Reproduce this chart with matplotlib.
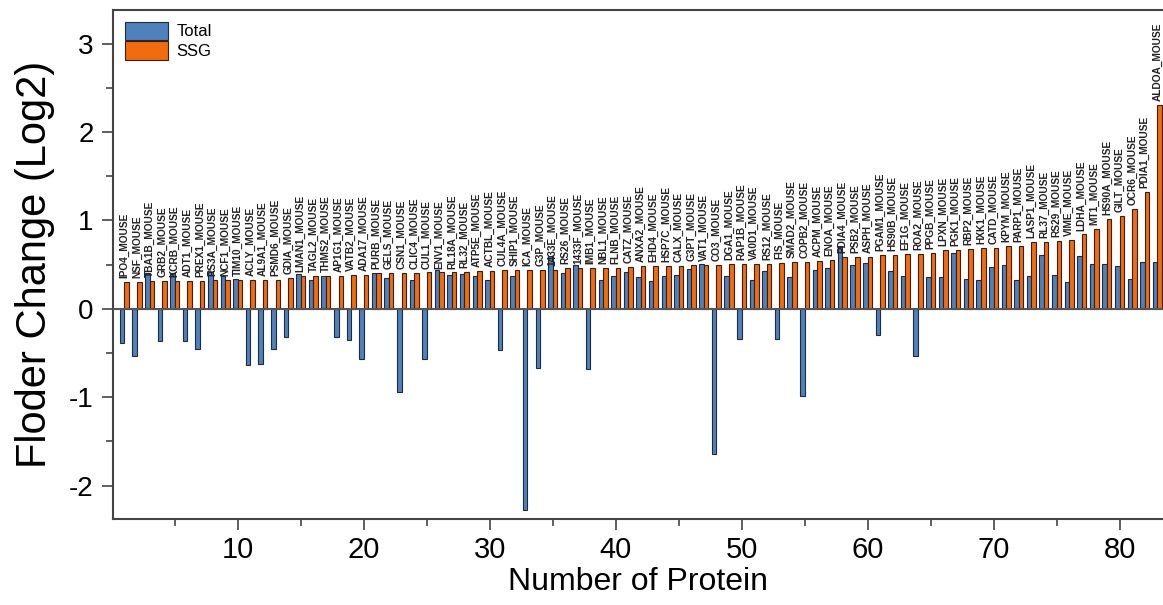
import numpy as np
import matplotlib
matplotlib.use("Agg")
import matplotlib.pyplot as plt
from matplotlib.ticker import MultipleLocator

plt.rcParams["font.family"] = ["Liberation Sans", "DejaVu Sans"]
plt.rcParams["axes.unicode_minus"] = False

proteins = [
    "IPO4_MOUSE", "NSF_MOUSE", "TBA1B_MOUSE", "GRB2_MOUSE", "KCRB_MOUSE",
    "ADT1_MOUSE", "PREX1_MOUSE", "RS3A_MOUSE", "NCF1_MOUSE", "TIM10_MOUSE",
    "ACLY_MOUSE", "AL9A1_MOUSE", "PSMD6_MOUSE", "GDIA_MOUSE", "LMAN1_MOUSE",
    "TAGL2_MOUSE", "THMS2_MOUSE", "AP1G1_MOUSE", "VATB2_MOUSE", "ADA17_MOUSE",
    "PURB_MOUSE", "GELS_MOUSE", "CSN1_MOUSE", "CLIC4_MOUSE", "CUL1_MOUSE",
    "ENV1_MOUSE", "RL18A_MOUSE", "RL32_MOUSE", "ATP5E_MOUSE", "ACTBL_MOUSE",
    "CUL4A_MOUSE", "SHIP1_MOUSE", "ICA_MOUSE", "G3P_MOUSE", "1433E_MOUSE",
    "RS26_MOUSE", "1433F_MOUSE", "IMB1_MOUSE", "NBL1_MOUSE", "FLNB_MOUSE",
    "CATZ_MOUSE", "ANXA2_MOUSE", "EHD4_MOUSE", "HSP7C_MOUSE", "CALX_MOUSE",
    "G3PT_MOUSE", "VAT1_MOUSE", "CO3_MOUSE", "DGA1_MOUSE", "RAP1B_MOUSE",
    "VA0D1_MOUSE", "RS12_MOUSE", "FIS_MOUSE", "SMAD2_MOUSE", "COPB2_MOUSE",
    "ACPM_MOUSE", "ENOA_MOUSE", "PDIA4_MOUSE", "PSB2_MOUSE", "ASPH_MOUSE",
    "PGAM1_MOUSE", "HS90B_MOUSE", "EF1G_MOUSE", "ROA2_MOUSE", "PPGB_MOUSE",
    "LPXN_MOUSE", "PGK1_MOUSE", "RBP2_MOUSE", "HXK1_MOUSE", "CATD_MOUSE",
    "KPYM_MOUSE", "PARP1_MOUSE", "LASP1_MOUSE", "RL37_MOUSE", "RS29_MOUSE",
    "VIME_MOUSE", "LDHA_MOUSE", "MT1_MOUSE", "HS90A_MOUSE", "GILT_MOUSE",
    "OCR6_MOUSE", "PDIA1_MOUSE", "ALDOA_MOUSE",
]

total = [
    -0.39, -0.53, 0.40, -0.37, 0.40, -0.37, -0.45, 0.41, 0.37, 0.34,
    -0.64, -0.62, -0.46, -0.32, 0.39, 0.33, 0.37, -0.32, -0.35, -0.57,
    0.40, 0.35, -0.94, 0.33, -0.57, 0.44, 0.38, 0.39, 0.37, 0.33,
    -0.47, 0.37, -2.28, -0.67, 0.60, 0.40, 0.49, -0.68, 0.33, 0.375,
    0.42, 0.355, 0.31, 0.375, 0.38, 0.45, 0.51, -1.64, 0.37, -0.34,
    0.33, 0.425, -0.34, 0.36, -0.99, 0.44, 0.46, 0.715, 0.49, 0.52,
    -0.30, 0.43, 0.37, -0.54, 0.357, 0.357, 0.635, 0.34, 0.32, 0.47,
    0.50, 0.32, 0.365, 0.605, 0.38, 0.30, 0.60, 0.51, 0.51, 0.48,
    0.335, 0.53, 0.53,
]

ssg = [
    0.30, 0.30, 0.31, 0.31, 0.31, 0.31, 0.31, 0.32, 0.32, 0.32,
    0.32, 0.33, 0.33, 0.35, 0.365, 0.37, 0.37, 0.37, 0.38, 0.38,
    0.40, 0.40, 0.40, 0.40, 0.41, 0.41, 0.41, 0.42, 0.43, 0.43,
    0.44, 0.44, 0.44, 0.44, 0.44, 0.46, 0.46, 0.46, 0.46, 0.465,
    0.47, 0.48, 0.48, 0.48, 0.48, 0.49, 0.495, 0.495, 0.51, 0.51,
    0.51, 0.51, 0.52, 0.525, 0.525, 0.54, 0.555, 0.59, 0.59, 0.59,
    0.605, 0.61, 0.62, 0.62, 0.63, 0.665, 0.665, 0.68, 0.685, 0.685,
    0.705, 0.705, 0.75, 0.75, 0.77, 0.78, 0.84, 0.90, 1.02, 1.05,
    1.125, 1.32, 2.30,
]

x = np.arange(1, len(proteins) + 1)
w = 0.36

fig = plt.figure(figsize=(11.63, 6.05), dpi=100)
ax = fig.add_axes([0.0972, 0.142, 0.9028, 0.8415])

ax.bar(x - w / 2, total, width=w, color="#4f81bd", edgecolor="#1f2a3a",
       linewidth=0.8, label="Total", zorder=3)
ax.bar(x + w / 2, ssg, width=w, color="#f26b0f", edgecolor="#3a1f0a",
       linewidth=0.8, label="SSG", zorder=3)
ax.axhline(0, color="#555555", linewidth=1.5, zorder=4)

# protein names above each pair
for xi, name, s in zip(x, proteins, ssg):
    ax.text(xi, s + 0.045, name, rotation=90, ha="center", va="bottom",
            fontsize=7.3, fontweight="bold", color="#222222", zorder=5)

ax.set_xlim(0.1, 83.45)
ax.set_ylim(-2.38, 3.38)
ax.xaxis.set_major_locator(MultipleLocator(10))
ax.xaxis.set_minor_locator(MultipleLocator(5))
ax.yaxis.set_major_locator(MultipleLocator(1))
ax.yaxis.set_minor_locator(MultipleLocator(0.5))
ax.tick_params(which="major", direction="out", length=8, width=1.2,
               color="#444444")
ax.tick_params(which="minor", direction="out", length=5, width=1.2,
               color="#444444")
ax.tick_params(axis="y", labelsize=20, pad=6)
ax.tick_params(axis="x", labelsize=21, pad=4)

for side in ["left", "bottom", "top"]:
    ax.spines[side].set_linewidth(1.5)
    ax.spines[side].set_color("#444444")
ax.spines["right"].set_visible(False)

ax.set_xlabel("Number of Protein", fontsize=23, labelpad=2)
ax.set_ylabel("Floder Change (Log2)", fontsize=30, labelpad=10)

ax.legend(loc="upper left", frameon=False, fontsize=12, handlelength=2.6,
          handleheight=1.3, borderaxespad=0.3, labelspacing=0.1,
          handletextpad=0.5)

fig.savefig("out.png", dpi=100)
